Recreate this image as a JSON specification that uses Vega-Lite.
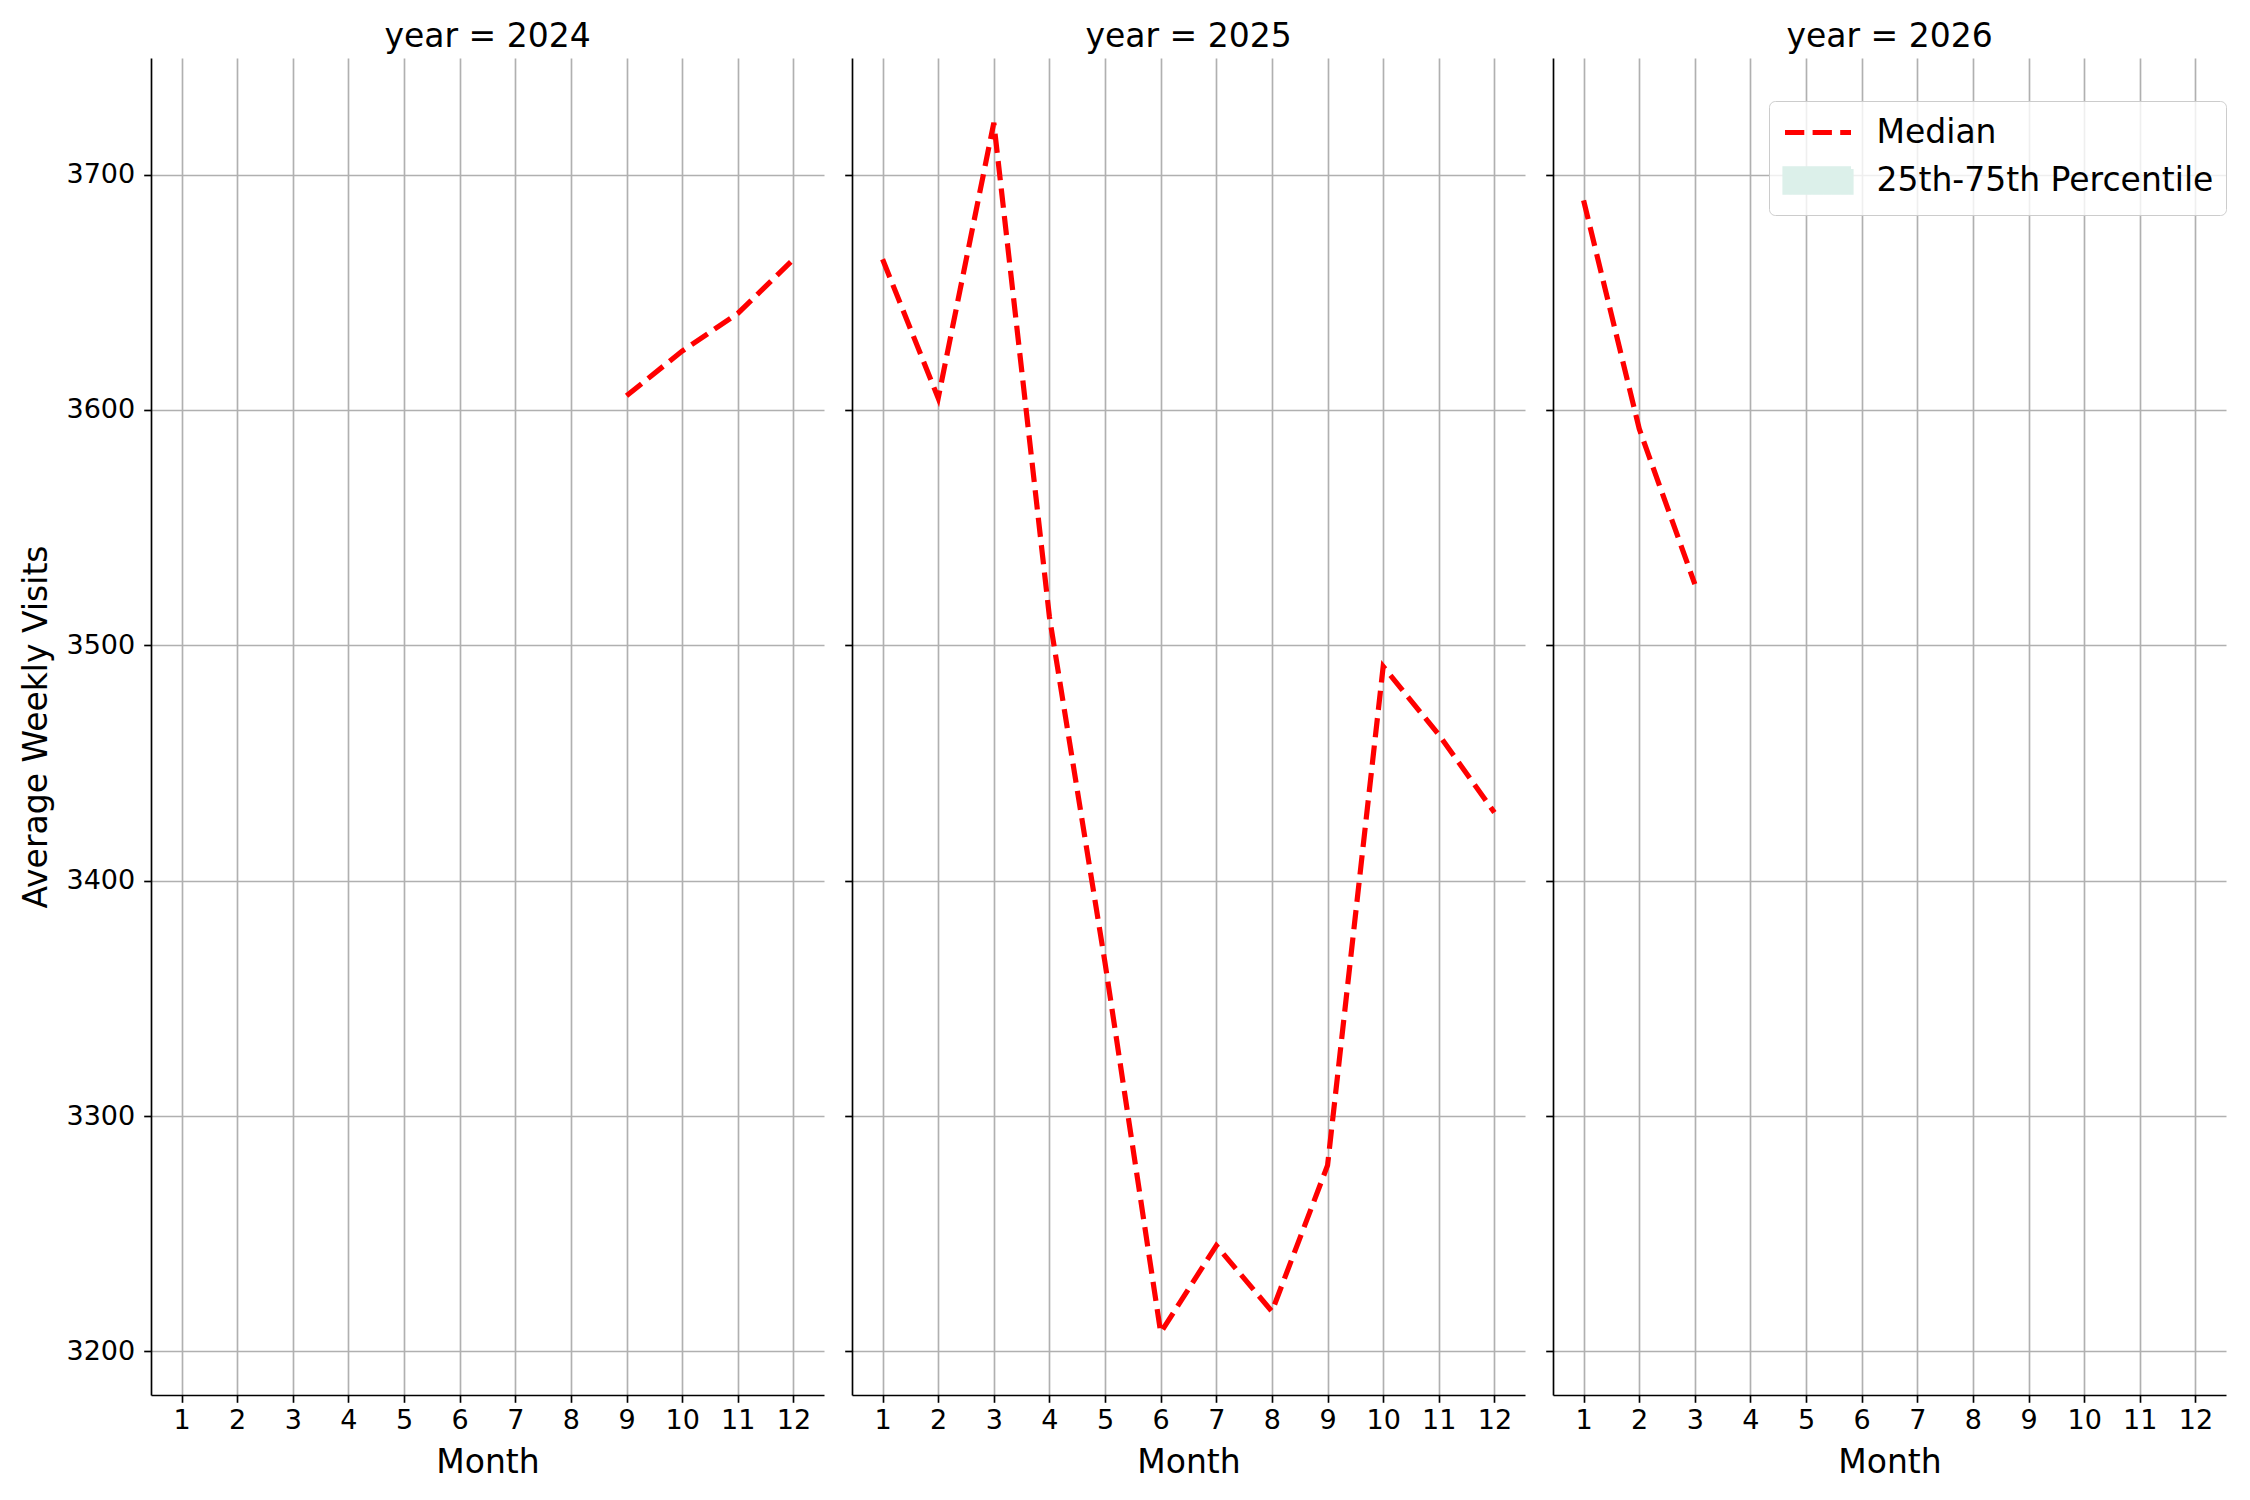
{
  "$schema": "https://vega.github.io/schema/vega-lite/v6.json",
  "background": "white",
  "padding": {"left": 20, "top": 21, "right": 0, "bottom": 0},
  "datasets": {
    "median": [
      {"year": 2024, "month": 9, "series": "Median", "value": 3606},
      {"year": 2024, "month": 10, "series": "Median", "value": 3625},
      {"year": 2024, "month": 11, "series": "Median", "value": 3641},
      {"year": 2024, "month": 12, "series": "Median", "value": 3664},
      {"year": 2025, "month": 1, "series": "Median", "value": 3664},
      {"year": 2025, "month": 2, "series": "Median", "value": 3605},
      {"year": 2025, "month": 3, "series": "Median", "value": 3722},
      {"year": 2025, "month": 4, "series": "Median", "value": 3512},
      {"year": 2025, "month": 5, "series": "Median", "value": 3365},
      {"year": 2025, "month": 6, "series": "Median", "value": 3208},
      {"year": 2025, "month": 7, "series": "Median", "value": 3245},
      {"year": 2025, "month": 8, "series": "Median", "value": 3217},
      {"year": 2025, "month": 9, "series": "Median", "value": 3279},
      {"year": 2025, "month": 10, "series": "Median", "value": 3491},
      {"year": 2025, "month": 11, "series": "Median", "value": 3462},
      {"year": 2025, "month": 12, "series": "Median", "value": 3429},
      {"year": 2026, "month": 1, "series": "Median", "value": 3689},
      {"year": 2026, "month": 2, "series": "Median", "value": 3592},
      {"year": 2026, "month": 3, "series": "Median", "value": 3526}
    ]
  },
  "config": {
    "view": {"stroke": null},
    "font": "DejaVu Sans",
    "axis": {
      "grid": true,
      "gridColor": "#b0b0b0",
      "gridWidth": 1.67,
      "domainColor": "#000000",
      "domainWidth": 1.67,
      "tickColor": "#000000",
      "tickWidth": 1.67,
      "tickSize": 7.3,
      "labelFont": "DejaVu Sans",
      "labelFontSize": 27,
      "labelColor": "#000000",
      "titleFont": "DejaVu Sans",
      "titleFontSize": 33,
      "titleFontWeight": "normal",
      "titleColor": "#000000"
    },
    "title": {
      "font": "DejaVu Sans",
      "fontSize": 33,
      "fontWeight": "normal",
      "color": "#000000",
      "anchor": "middle",
      "baseline": "alphabetic",
      "offset": 4
    }
  },
  "spacing": 19,
  "resolve": {"scale": {"color": "independent"}, "legend": {"color": "independent"}},
  "hconcat": [
    {
      "width": 673,
      "height": 1337,
      "title": "year = 2024",
      "data": {"name": "median"},
      "transform": [{"filter": "datum.year === 2024"}],
      "mark": {"type": "line", "color": "#ff0000", "strokeWidth": 5.2, "strokeDash": [19.3, 8.3], "strokeCap": "butt"},
      "encoding": {
        "x": {"field": "month", "type": "quantitative", "scale": {"domain": [0.45, 12.55], "nice": false, "zero": false},
              "axis": {"values": [1,2,3,4,5,6,7,8,9,10,11,12], "format": "d", "title": "Month", "labelPadding": 5, "titlePadding": 13, "labelFlush": false}},
        "y": {"field": "value", "type": "quantitative", "scale": {"domain": [3181.5, 3749.5], "nice": false, "zero": false},
              "axis": {"values": [3200,3300,3400,3500,3600,3700], "format": "d", "title": "Average Weekly Visits", "labelPadding": 9, "titlePadding": 12}}
      }
    },
    {
      "width": 673,
      "height": 1337,
      "title": "year = 2025",
      "data": {"name": "median"},
      "transform": [{"filter": "datum.year === 2025"}],
      "mark": {"type": "line", "color": "#ff0000", "strokeWidth": 5.2, "strokeDash": [19.3, 8.3], "strokeCap": "butt"},
      "encoding": {
        "x": {"field": "month", "type": "quantitative", "scale": {"domain": [0.45, 12.55], "nice": false, "zero": false},
              "axis": {"values": [1,2,3,4,5,6,7,8,9,10,11,12], "format": "d", "title": "Month", "labelPadding": 5, "titlePadding": 13, "labelFlush": false}},
        "y": {"field": "value", "type": "quantitative", "scale": {"domain": [3181.5, 3749.5], "nice": false, "zero": false},
              "axis": {"values": [3200,3300,3400,3500,3600,3700], "labels": false, "title": null}}
      }
    },
    {
      "width": 673,
      "height": 1337,
      "title": "year = 2026",
      "data": {"name": "median"},
      "transform": [{"filter": "datum.year === 2026"}],
      "mark": {"type": "line", "strokeWidth": 5.2, "strokeDash": [19.3, 8.3], "strokeCap": "butt"},
      "encoding": {
        "x": {"field": "month", "type": "quantitative", "scale": {"domain": [0.45, 12.55], "nice": false, "zero": false},
              "axis": {"values": [1,2,3,4,5,6,7,8,9,10,11,12], "format": "d", "title": "Month", "labelPadding": 5, "titlePadding": 13, "labelFlush": false}},
        "y": {"field": "value", "type": "quantitative", "scale": {"domain": [3181.5, 3749.5], "nice": false, "zero": false},
              "axis": {"values": [3200,3300,3400,3500,3600,3700], "labels": false, "title": null}},
        "color": {
          "field": "series", "type": "nominal",
          "scale": {"domain": ["Median", "25th-75th Percentile"], "range": ["#ff0000", "#dcf0ea"]},
          "legend": {
            "title": null,
            "orient": "none",
            "legendX": 216,
            "legendY": 43,
            "padding": 12,
            "strokeColor": "#cccccc",
            "fillColor": "rgba(255,255,255,0.8)",
            "cornerRadius": 6,
            "labelFont": "DejaVu Sans",
            "labelFontSize": 33,
            "labelColor": "#000000",
            "labelLimit": 0,
            "labelOffset": 39,
            "symbolOffset": 17.5,
            "rowPadding": 8,
            "symbolSize": 1089,
            "symbolStrokeWidth": 5.2,
            "encode": {
              "symbols": {
                "update": {
                  "shape": {"signal": "datum.value === 'Median' ? 'M-2,0H2' : 'M-2,-0.7H2V0.7H-2Z'"},
                  "fill": {"signal": "datum.value === 'Median' ? 'transparent' : '#dcf0ea'"},
                  "stroke": {"signal": "datum.value === 'Median' ? '#ff0000' : 'transparent'"},
                  "strokeDash": {"signal": "datum.value === 'Median' ? [19.3, 8.3] : [1, 0]"},
                  "strokeWidth": {"value": 5.2},
                  "opacity": {"value": 1}
                }
              }
            }
          }
        }
      }
    }
  ]
}
